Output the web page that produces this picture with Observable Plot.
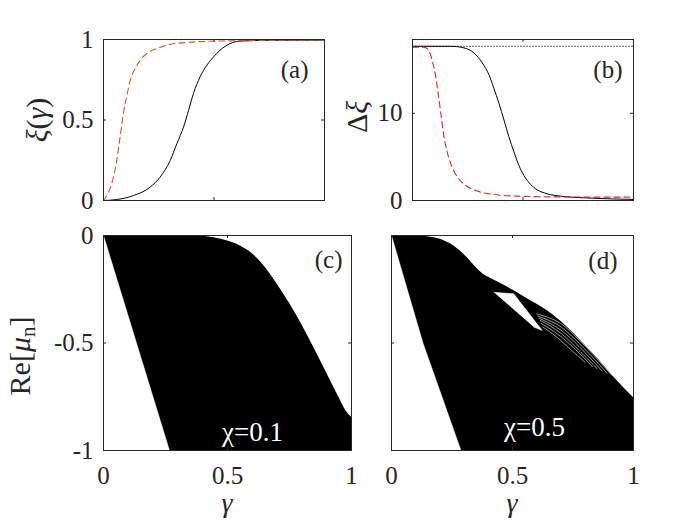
<!DOCTYPE html>
<html><head><meta charset="utf-8">
<script src="https://cdn.jsdelivr.net/npm/d3@7"></script>
<script src="https://cdn.jsdelivr.net/npm/@observablehq/plot@0.6"></script>
<style>
body{margin:0;background:#fff;}
#fig{position:relative;width:700px;height:525px;font-family:"Liberation Serif","Times New Roman",serif;color:#262626;overflow:hidden;}
#fig svg{position:absolute;}
#fig svg, #fig svg text, #fig svg tspan{font-family:"Liberation Serif","Times New Roman",serif !important;}
.lab{position:absolute;font-size:30px;line-height:1;white-space:nowrap;transform:translate(-50%,-50%) rotate(-90deg);}
.xl{position:absolute;font-size:28px;line-height:0.9;transform:translate(-50%,-50%);}
sub{font-size:0.7em;vertical-align:-0.25em;}
</style></head><body><div id="fig"></div>
<script>
// ---- panel (a): xi(gamma)
const aBlackGamma = [0, 0.06, 0.136, 0.211, 0.256, 0.302, 0.332, 0.362, 0.385, 0.407, 0.437, 0.468, 0.498, 0.528, 0.573, 0.618, 0.739, 1];
const aBlackXi    = [0, 0.006, 0.031, 0.083, 0.145, 0.249, 0.353, 0.456, 0.56, 0.664, 0.768, 0.841, 0.892, 0.934, 0.975, 0.99, 0.995, 0.996];
const aRedGamma   = [0, 0.023, 0.045, 0.06, 0.075, 0.09, 0.106, 0.121, 0.143, 0.166, 0.196, 0.241, 0.287, 0.377, 0.513, 0.739, 1];
const aRedXi      = [0, 0.052, 0.145, 0.249, 0.394, 0.539, 0.653, 0.747, 0.819, 0.871, 0.913, 0.944, 0.965, 0.982, 0.99, 0.994, 0.996];
const aYTicks = [0, 0.5, 1];
// ---- panel (b): delta xi
const bBlackGamma = [0, 0.173, 0.233, 0.278, 0.316, 0.346, 0.368, 0.391, 0.414, 0.436, 0.459, 0.481, 0.504, 0.534, 0.564, 0.609, 0.669, 0.774, 0.895, 1];
const bBlackDxi   = [17.68, 17.68, 17.5, 16.92, 15.77, 14.42, 12.88, 11.15, 9.23, 7.31, 5.58, 4.04, 2.88, 1.85, 1.23, 0.77, 0.5, 0.31, 0.19, 0.12];
const bRedGamma   = [0, 0.053, 0.075, 0.09, 0.105, 0.116, 0.128, 0.14, 0.155, 0.173, 0.203, 0.241, 0.293, 0.368, 0.474, 0.624, 1];
const bRedDxi     = [17.58, 17.58, 17.12, 15.96, 14.23, 12.31, 10.0, 7.69, 5.77, 4.23, 2.69, 1.73, 1.08, 0.69, 0.5, 0.42, 0.38];
const bDottedGamma = [0, 1];
const bDottedDxi   = [17.68, 17.68];
const bYTicks = [0, 10];
// ---- panel (c): Re[mu_n], chi = 0.1 (filled band)
const cUpperGamma = [0, 0.3, 0.4, 0.45, 0.5, 0.55, 0.6, 0.65, 0.7, 0.75, 0.8, 0.85, 0.9, 0.95, 0.975, 1];
const cUpperRe    = [0, 0, -0.004, -0.012, -0.026, -0.048, -0.085, -0.145, -0.225, -0.315, -0.415, -0.525, -0.64, -0.755, -0.81, -0.845];
const cLeftGamma  = [0, 0.266, 0];     // white wedge left of the band
const cLeftRe     = [0, -1, -1];
// ---- panel (d): Re[mu_n], chi = 0.5
const dUpperGamma = [0, 0.1, 0.176, 0.245, 0.31, 0.368, 0.45, 0.505, 0.57, 0.643, 0.72, 0.781, 0.85, 0.919, 1];
const dUpperRe    = [0, -0.002, -0.01, -0.04, -0.1, -0.17, -0.222, -0.256, -0.3, -0.349, -0.42, -0.488, -0.57, -0.659, -0.755];
const dLeftGamma  = [0, 0.13, 0.287, 0];
const dLeftRe     = [0, -0.5, -1, -1];
const dHoleGamma  = [0.423, 0.505, 0.623, 0.588];
const dHoleRe     = [-0.264, -0.271, -0.442, -0.426];
const dStripeId    = [1,1,1,1, 2,2,2,2, 3,3,3,3, 4,4,4,4, 5,5,5,5, 6,6,6,6];
const dStripeGamma = [0.60,0.70,0.80,0.91, 0.605,0.70,0.80,0.89, 0.61,0.70,0.80,0.87, 0.615,0.70,0.78,0.85, 0.62,0.70,0.76,0.83, 0.625,0.68,0.74,0.80];
const dStripeRe    = [-0.365,-0.41,-0.515,-0.65, -0.375,-0.425,-0.53,-0.64, -0.385,-0.44,-0.545,-0.63, -0.395,-0.455,-0.54,-0.62, -0.41,-0.47,-0.53,-0.61, -0.425,-0.47,-0.53,-0.59];
const cdXTicks = [0, 0.5, 1];
const cdYTicks = [0, -0.5, -1];

const pts = (xs, ys) => xs.map((g, i) => ({g, v: ys[i]}));
const INK = "#262626";
const FONT = '"Liberation Serif", "Times New Roman", serif';
const fig = document.getElementById("fig");

function panel(cfg) {
  const fh = cfg.height - cfg.mt - cfg.mb, fw = cfg.width - cfg.ml - cfg.mr, tl = 3;
  const marks = [
    ...cfg.marks,
    Plot.tickX(cfg.xTickMarks, {x: d => d, insetTop: fh - tl, stroke: INK}),
    Plot.tickX(cfg.xTickMarks, {x: d => d, insetBottom: fh - tl, stroke: INK}),
    Plot.tickY(cfg.yTickMarks, {y: d => d, insetRight: fw - tl, stroke: INK}),
    Plot.tickY(cfg.yTickMarks, {y: d => d, insetLeft: fw - tl, stroke: INK}),
    Plot.frame({stroke: INK, strokeWidth: 1}),
    Plot.text([cfg.tag], {text: d => d, frameAnchor: "top-right", dx: cfg.tagDx, dy: cfg.tagDy, fontSize: 25, fontFamily: FONT, fill: INK}),
    ...(cfg.extra || [])
  ];
  if (cfg.yTickLabels) marks.push(Plot.axisY(cfg.yTickLabels, {tickSize: 0, tickPadding: 10, tickFormat: d => String(d), fontSize: 25, fontFamily: FONT, label: null}));
  if (cfg.xTickLabels) marks.push(Plot.axisX(cfg.xTickLabels, {tickSize: 0, tickPadding: 16, tickFormat: d => String(d), fontSize: 25, fontFamily: FONT, label: null}));
  const svg = Plot.plot({
    width: cfg.width, height: cfg.height,
    marginLeft: cfg.ml, marginRight: cfg.mr, marginTop: cfg.mt, marginBottom: cfg.mb,
    x: {domain: [0, 1], axis: null},
    y: {domain: cfg.yDomain, axis: null},
    style: {fontFamily: FONT, background: "transparent", color: INK, overflow: "visible"},
    marks
  });
  svg.style.left = cfg.left + "px";
  svg.style.top = cfg.top + "px";
  fig.appendChild(svg);
}

// (a)
panel({
  left: 0, top: 0, width: 350, height: 215, ml: 103, mr: 26, mt: 39, mb: 15,
  yDomain: [0, 1], yTickLabels: aYTicks, xTickMarks: [0.5], yTickMarks: [0.5],
  tag: "(a)", tagDx: -16, tagDy: 21,
  marks: [
    Plot.line(pts(aBlackGamma, aBlackXi), {x: "g", y: "v", stroke: "black", strokeWidth: 1, curve: "monotone-x"}),
    Plot.line(pts(aRedGamma, aRedXi), {x: "g", y: "v", stroke: "#d95319", strokeWidth: 1.1, strokeDasharray: "6,4", curve: "monotone-x"})
  ]
});
// (b)
panel({
  left: 350, top: 0, width: 350, height: 215, ml: 62, mr: 67, mt: 39, mb: 15,
  yDomain: [0, 18.46], yTickLabels: bYTicks, xTickMarks: [0.5], yTickMarks: [10],
  tag: "(b)", tagDx: -11, tagDy: 21,
  marks: [
    Plot.line(pts(bDottedGamma, bDottedDxi), {x: "g", y: "v", stroke: "#555", strokeWidth: 1, strokeDasharray: "1,2"}),
    Plot.line(pts(bBlackGamma, bBlackDxi), {x: "g", y: "v", stroke: "black", strokeWidth: 1, curve: "monotone-x"}),
    Plot.line(pts(bRedGamma, bRedDxi), {x: "g", y: "v", stroke: "#e0202a", strokeWidth: 1.1, strokeDasharray: "6,4", curve: "monotone-x"})
  ]
});
// (c)
panel({
  left: 0, top: 215, width: 370, height: 310, ml: 103, mr: 19, mt: 20, mb: 75,
  yDomain: [-1, 0], yTickLabels: cdYTicks, xTickLabels: cdXTicks, xTickMarks: [0.5], yTickMarks: [-0.5],
  tag: "(c)", tagDx: -9, tagDy: 15,
  marks: [
    Plot.areaY(pts(cUpperGamma, cUpperRe), {x: "g", y1: "v", y2: () => -1, fill: "black", curve: "monotone-x"}),
    Plot.line(pts(cLeftGamma, cLeftRe), {x: "g", y: "v", fill: "white", stroke: "white", strokeWidth: 0.5})
  ],
  extra: [
    Plot.text(["χ=0.1"], {text: d => d, frameAnchor: "bottom", dx: 25, dy: -10, fill: "white", fontSize: 27, fontFamily: FONT})
  ]
});
// (d)
panel({
  left: 370, top: 215, width: 330, height: 310, ml: 21, mr: 67, mt: 20, mb: 75,
  yDomain: [-1, 0], xTickLabels: cdXTicks, xTickMarks: [0.5], yTickMarks: [-0.5],
  tag: "(d)", tagDx: -16, tagDy: 16,
  marks: [
    Plot.areaY(pts(dUpperGamma, dUpperRe), {x: "g", y1: "v", y2: () => -1, fill: "black", curve: "monotone-x"}),
    Plot.line(pts(dLeftGamma, dLeftRe), {x: "g", y: "v", fill: "white", stroke: "white", strokeWidth: 0.5, curve: "linear"}),
    Plot.line(pts(dHoleGamma, dHoleRe), {x: "g", y: "v", fill: "white", stroke: "white", strokeWidth: 0.5}),
    Plot.line(dStripeGamma.map((g, i) => ({g, v: dStripeRe[i], id: dStripeId[i]})), {x: "g", y: "v", z: "id", stroke: "white", strokeWidth: 0.6, curve: "monotone-x"})
  ],
  extra: [
    Plot.text(["χ=0.5"], {text: d => d, frameAnchor: "bottom", dx: 22, dy: -15, fill: "white", fontSize: 27, fontFamily: FONT})
  ]
});

// axis titles
function addLabel(cls, x, y, html) {
  const d = document.createElement("div");
  d.className = cls; d.style.left = x + "px"; d.style.top = y + "px"; d.innerHTML = html;
  fig.appendChild(d);
}
addLabel("lab", 37, 120, "<i>ξ</i>(<i>γ</i>)");
addLabel("lab", 357, 117, "Δ<i>ξ</i>");
addLabel("lab", 22, 356, "Re[<i>μ</i><sub>n</sub>]");
addLabel("xl", 227, 503, "<i>γ</i>");
addLabel("xl", 512, 503, "<i>γ</i>");
</script>
</body></html>
